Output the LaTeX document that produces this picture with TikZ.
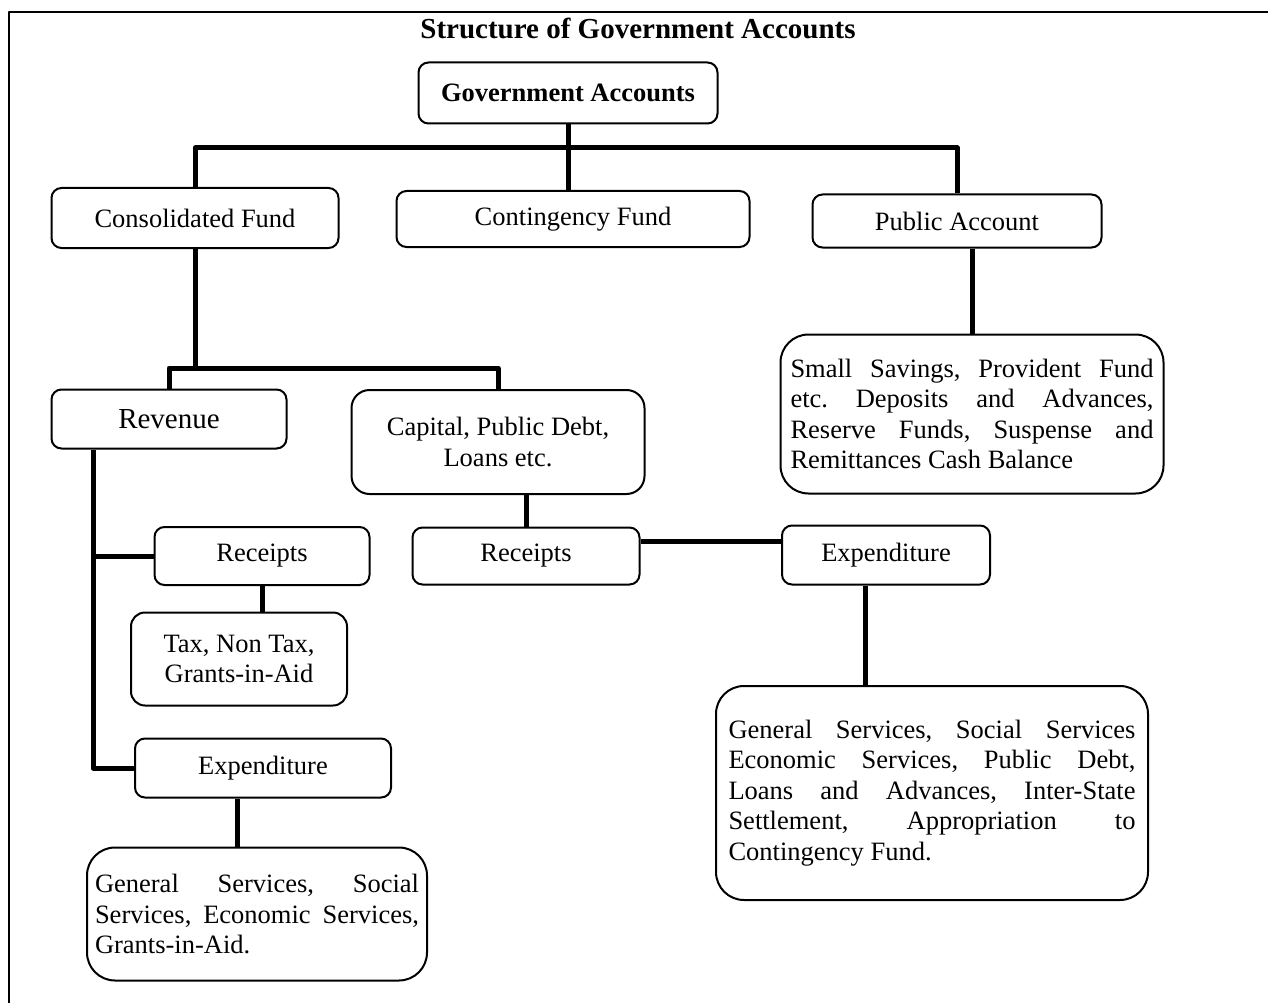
\documentclass[tikz,border=0pt]{standalone}
\usepackage{fontspec}
\setmainfont{Liberation Serif}
\tolerance=10000 \hbadness=10000
\frenchspacing
\begin{document}
\begin{tikzpicture}[x=1pt, y=-1pt, line join=round,
	box/.style={draw, line width=2pt, rounded corners=10pt, inner sep=0pt, align=center,
		font=\fontsize{26.5}{30.5}\selectfont},
	bigbox/.style={box, rounded corners=28pt, align=justify},
	conn/.style={line width=5pt}]
	\useasboundingbox (0,0) rectangle (1268,1003);
	% frame and title
	\draw[line width=2.5pt] (9,1003)--(9,12)--(1268,12);
	\node[font=\fontsize{29}{34}\selectfont\bfseries] (title) at (638,28) {Structure of Government Accounts};
	% top levels
	\node[box, minimum width=299pt, minimum height=61pt, font=\fontsize{26.5}{30.5}\selectfont\bfseries] (ga) at (568,93) {Government Accounts};
	\node[box, minimum width=287pt, minimum height=60pt] (cf) at (195,218) {Consolidated Fund};
	\node[box, minimum width=353pt, minimum height=56pt] (ct) at (573,219) {Contingency Fund};
	\node[box, minimum width=289pt, minimum height=53pt] (pa) at (957,221) {Public Account};
	\node[bigbox, text width=363pt, inner xsep=10pt, minimum height=159pt] (ss) at (972,414)
		{Small Savings, Provident Fund\linebreak etc. Deposits and Advances,\linebreak Reserve Funds, Suspense and\linebreak Remittances Cash Balance};
	% consolidated fund
	\node[box, minimum width=235pt, minimum height=59pt, font=\fontsize{29}{33}\selectfont] (rev) at (169,419) {Revenue};
	\node[box, rounded corners=18pt, minimum width=293pt, minimum height=104pt] (cap) at (498,442) {Capital, Public Debt,\\Loans etc.};
	\node[box, minimum width=215pt, minimum height=58pt] (rcl) at (262,556) {Receipts};
	\node[box, rounded corners=14pt, minimum width=216pt, minimum height=93pt] (tax) at (239,659) {Tax, Non Tax,\\Grants-in-Aid};
	\node[box, minimum width=256pt, minimum height=59pt] (exl) at (263,768) {Expenditure};
	\node[bigbox, text width=324pt, inner xsep=8pt, minimum height=133pt] (gsl) at (257,914)
		{General Services, Social\linebreak Services, Economic Services,\linebreak Grants-in-Aid.};
	\node[box, minimum width=227pt, minimum height=57pt] (rcr) at (526,556) {Receipts};
	\node[box, minimum width=208pt, minimum height=59pt] (exr) at (886,555) {Expenditure};
	\node[bigbox, text width=407pt, inner xsep=12.5pt, minimum height=214pt] (gsr) at (932,793)
		{General Services, Social Services\linebreak Economic Services, Public Debt,\linebreak Loans and Advances, Inter-State\linebreak Settlement, Appropriation to\linebreak Contingency Fund.};
	% connectors
	\coordinate (bus) at (0,148);
	\coordinate (rbus) at (0,368);
	\coordinate (spine) at (93,0);
	\draw[conn] (ga.south)--(ga.south |- ct.north);
	\draw[conn] (cf.north)--(cf.north |- bus)--(bus -| pa.north)--(pa.north);
	\draw[conn] (ss.north)--(ss.north |- pa.south);
	\draw[conn] (cf.south)--(cf.south |- rbus);
	\draw[conn] (rev.north)--(rev.north |- rbus)--(rbus -| cap.north)--(cap.north);
	\draw[conn] (rev.south -| spine)--(spine |- exl.west)--(exl.west);
	\draw[conn] (spine |- rcl.west)--(rcl.west);
	\draw[conn] (rcl.south)--(rcl.south |- tax.north);
	\draw[conn] ([xshift=-26pt]exl.south)--([xshift=-26pt]exl.south |- gsl.north);
	\draw[conn] (rcr.north)--(rcr.north |- cap.south);
	\draw[conn] ([yshift=15pt]rcr.east)--([yshift=15pt]rcr.east -| exr.west);
	\draw[conn] ([xshift=-21pt]exr.south)--([xshift=-21pt]exr.south |- gsr.north);
\end{tikzpicture}
\end{document}
